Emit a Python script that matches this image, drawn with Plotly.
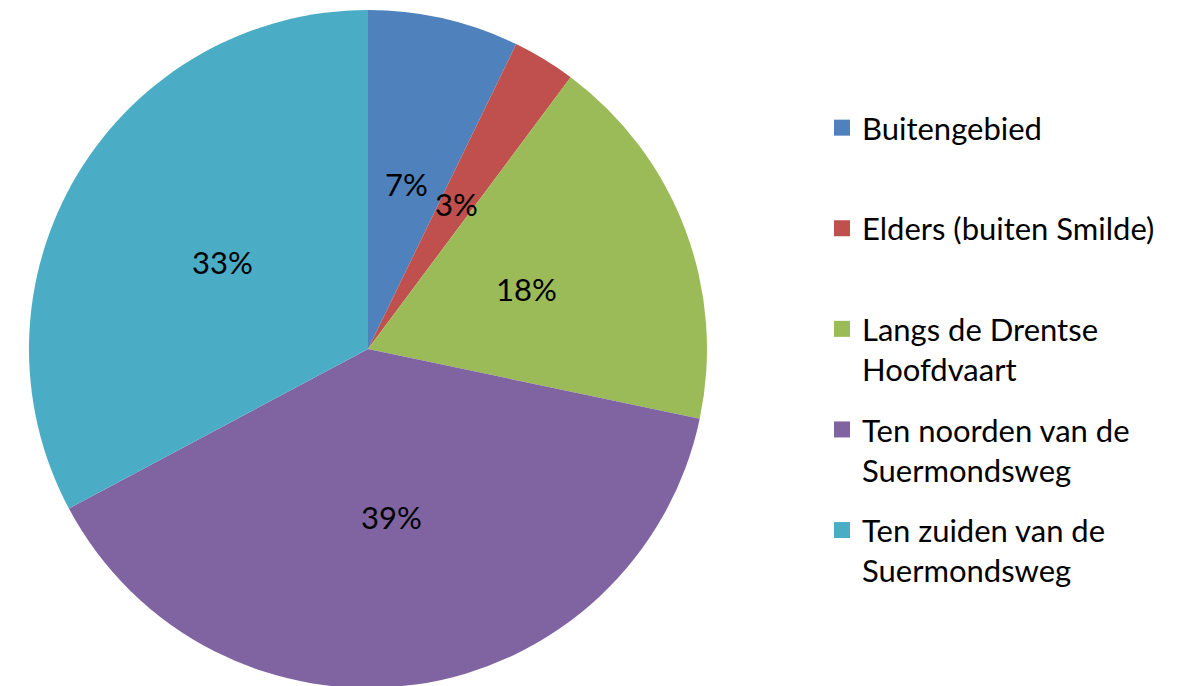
import math
import plotly.graph_objects as go

categories = ["Buitengebied", "Elders (buiten Smilde)", "Langs de Drentse Hoofdvaart",
              "Ten noorden van de Suermondsweg", "Ten zuiden van de Suermondsweg"]
legend_labels = ["Buitengebied<br> ", "Elders (buiten Smilde)<br> ", "Langs de Drentse<br>Hoofdvaart",
                 "Ten noorden van de<br>Suermondsweg", "Ten zuiden van de<br>Suermondsweg"]
values = [7.2, 3.0, 18.1, 38.9, 32.8]
colors = ["#4F81BD", "#C0504D", "#9BBB59", "#8064A2", "#4BACC6"]

W, H = 1183, 686
FONT = "Lato"
FS = 31

dom_x = [21 / W, 699 / W]
dom_y = [1 - 680 / H, 1 - 2 / H]

fig = go.Figure()
fig.add_trace(go.Pie(
    labels=categories, values=values, sort=False, direction="clockwise", rotation=0,
    marker=dict(colors=colors, line=dict(width=0)),
    textinfo="none", hoverinfo="label+percent", showlegend=False,
    domain=dict(x=dom_x, y=dom_y),
))

# legend entries
for i, (lab, col) in enumerate(zip(legend_labels, colors)):
    fig.add_trace(go.Scatter(
        x=[None], y=[None], mode="markers", name=lab, legendgroup=f"g{i}",
        marker=dict(symbol="square", size=16, color=col), showlegend=True,
    ))

# percentage labels at half radius on each slice's mid-angle
total = sum(values)
cx_px = (dom_x[0] + dom_x[1]) / 2 * W
cy_px = (1 - (dom_y[0] + dom_y[1]) / 2) * H
R = min((dom_x[1] - dom_x[0]) * W, (dom_y[1] - dom_y[0]) * H) / 2
cum = 0
for v in values:
    mid = (cum + v / 2) / total * 2 * math.pi
    cum += v
    px = cx_px + 0.5 * R * math.sin(mid)
    py = cy_px - 0.5 * R * math.cos(mid)
    fig.add_annotation(
        x=px / W, y=1 - py / H, xref="paper", yref="paper",
        xanchor="center", yanchor="middle",
        text=f"{round(v / total * 100)}%", showarrow=False,
        font=dict(family=FONT, size=FS, color="black"),
    )

fig.update_layout(
    width=W, height=H,
    margin=dict(l=0, r=0, t=0, b=0),
    paper_bgcolor="white", plot_bgcolor="white",
    xaxis=dict(visible=False), yaxis=dict(visible=False),
    legend=dict(
        x=814 / W, y=1 - 93 / H, xanchor="left", yanchor="top",
        font=dict(family=FONT, size=FS, color="black"),
        tracegroupgap=17, valign="top", traceorder="grouped",
        bgcolor="rgba(0,0,0,0)",
    ),
    showlegend=True,
)

fig.write_html("out.html")
